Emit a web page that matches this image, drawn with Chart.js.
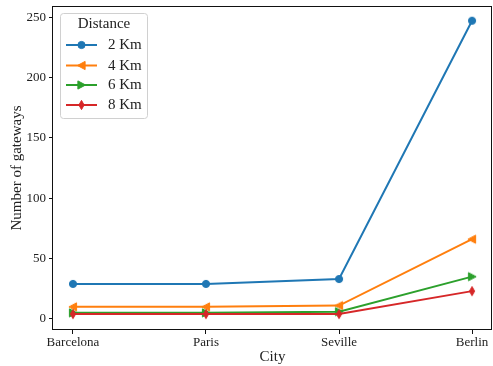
<!DOCTYPE html>
<html><head><meta charset="utf-8">
<script src="https://cdn.jsdelivr.net/npm/chart.js@4"></script>
<style>html,body{margin:0;padding:0;background:#fff}#wrap{width:493px;height:366px}</style>
</head><body><div id="wrap"><canvas id="c" width="493" height="366"></canvas></div>
<script>
const cities = ["Barcelona", "Paris", "Seville", "Berlin"];
const seriesLabels = ["2 Km", "4 Km", "6 Km", "8 Km"];
const km2 = [29, 29, 33, 247];
const km4 = [10, 10, 11, 66];
const km6 = [5, 5, 6, 35];
const km8 = [4, 4, 4, 23];
const yTicks = [0, 50, 100, 150, 200, 250];
const colors = ["#1f77b4", "#ff7f0e", "#2ca02c", "#d62728"];
const markers = ["circle", "left", "right", "thindiamond"];
const FONT = "'Liberation Serif', 'Times New Roman', serif";

function drawMarker(ctx, m, x, y, color) {
  ctx.save();
  ctx.fillStyle = color; ctx.strokeStyle = color; ctx.lineWidth = 1;
  ctx.beginPath();
  const r = 3.6;
  if (m === "circle") { ctx.arc(x, y, r, 0, Math.PI * 2); }
  else if (m === "left") { ctx.moveTo(x - r - 0.5, y); ctx.lineTo(x + r, y - r - 0.5); ctx.lineTo(x + r, y + r + 0.5); ctx.closePath(); }
  else if (m === "right") { ctx.moveTo(x + r + 0.5, y); ctx.lineTo(x - r, y - r - 0.5); ctx.lineTo(x - r, y + r + 0.5); ctx.closePath(); }
  else { ctx.moveTo(x, y - r - 1); ctx.lineTo(x + 2.6, y); ctx.lineTo(x, y + r + 1); ctx.lineTo(x - 2.6, y); ctx.closePath(); }
  ctx.fill(); ctx.stroke();
  ctx.restore();
}
function markerImage(m, color) {
  const cv = document.createElement("canvas");
  cv.width = 14; cv.height = 14;
  drawMarker(cv.getContext("2d"), m, 7, 7, color);
  return cv;
}

const seriesData = [km2, km4, km6, km8];
const datasets = seriesData.map((arr, i) => ({
  label: seriesLabels[i],
  data: arr.map((v, j) => ({ x: j, y: v })),
  borderColor: colors[i],
  backgroundColor: colors[i],
  borderWidth: 2,
  pointStyle: markerImage(markers[i], colors[i]),
  pointRadius: 1,
  pointHoverRadius: 1,
  pointBorderWidth: 0,
  tension: 0,
  clip: 8,
  order: 3 - i
}));

const framePlugin = {
  id: "frame",
  afterDatasetsDraw(chart) {
    const a = chart.chartArea, ctx = chart.ctx;
    ctx.save();
    ctx.strokeStyle = "#111"; ctx.lineWidth = 1;
    const l = Math.round(a.left) - 0.5, t = Math.round(a.top) + 0.5;
    const r = Math.round(a.right) - 0.5, b = Math.round(a.bottom) - 0.5;
    ctx.strokeRect(l, t, r - l, b - t);
    ctx.restore();
  },
  afterDraw(chart) {
    const ctx = chart.ctx;
    ctx.save();
    const x0 = 60.5, y0 = 13.5, w = 87, h = 105, rr = 3;
    ctx.beginPath();
    ctx.moveTo(x0 + rr, y0); ctx.lineTo(x0 + w - rr, y0); ctx.quadraticCurveTo(x0 + w, y0, x0 + w, y0 + rr);
    ctx.lineTo(x0 + w, y0 + h - rr); ctx.quadraticCurveTo(x0 + w, y0 + h, x0 + w - rr, y0 + h);
    ctx.lineTo(x0 + rr, y0 + h); ctx.quadraticCurveTo(x0, y0 + h, x0, y0 + h - rr);
    ctx.lineTo(x0, y0 + rr); ctx.quadraticCurveTo(x0, y0, x0 + rr, y0); ctx.closePath();
    ctx.fillStyle = "rgba(255,255,255,0.85)"; ctx.fill();
    ctx.strokeStyle = "#d0d0d0"; ctx.lineWidth = 1; ctx.stroke();
    ctx.fillStyle = "#222";
    ctx.font = "15px " + FONT;
    ctx.textAlign = "center"; ctx.textBaseline = "middle";
    ctx.fillText("Distance", 104, 24);
    const rows = [45, 65.5, 85, 105];
    ctx.textAlign = "left";
    seriesLabels.forEach((lab, i) => {
      const y = rows[i];
      ctx.strokeStyle = colors[i]; ctx.lineWidth = 2;
      ctx.beginPath(); ctx.moveTo(66, y); ctx.lineTo(97, y); ctx.stroke();
      drawMarker(ctx, markers[i], 81.5, y, colors[i]);
      ctx.fillStyle = "#222";
      ctx.fillText(lab, 108, y + 0.5);
    });
    ctx.restore();
  }
};

new Chart(document.getElementById("c"), {
  type: "line",
  data: { datasets },
  plugins: [framePlugin],
  options: {
    responsive: false,
    animation: false,
    devicePixelRatio: 1,
    layout: { autoPadding: false, padding: { left: 0, right: 1, top: 6, bottom: 0 } },
    plugins: { legend: { display: false }, tooltip: { enabled: false } },
    scales: {
      x: {
        type: "linear", min: -0.15, max: 3.15,
        afterBuildTicks: s => { s.ticks = cities.map((c, i) => ({ value: i })); },
        afterFit: s => { s.height = 36; s.paddingLeft = 0; s.paddingRight = 0; },
        ticks: { callback: v => cities[v], color: "#222", font: { family: FONT, size: 13 }, padding: 1, maxRotation: 0, autoSkip: false },
        grid: { drawOnChartArea: false, drawTicks: true, tickLength: 4, color: "#111" },
        border: { display: false },
        title: { display: true, text: "City", color: "#222", font: { family: FONT, size: 15 }, padding: { top: 0, bottom: 0 } }
      },
      y: {
        type: "linear", min: -9.2, max: 259.2,
        afterBuildTicks: s => { s.ticks = yTicks.map(v => ({ value: v })); },
        afterFit: s => { s.width = 53; s.paddingTop = 0; s.paddingBottom = 0; },
        ticks: { color: "#222", font: { family: FONT, size: 13 }, padding: 3 },
        grid: { drawOnChartArea: false, drawTicks: true, tickLength: 4, color: "#111" },
        border: { display: false },
        title: { display: true, text: "Number of gateways", color: "#222", font: { family: FONT, size: 15 }, padding: { top: 8, bottom: 0 } }
      }
    }
  }
});
</script>
</body></html>
